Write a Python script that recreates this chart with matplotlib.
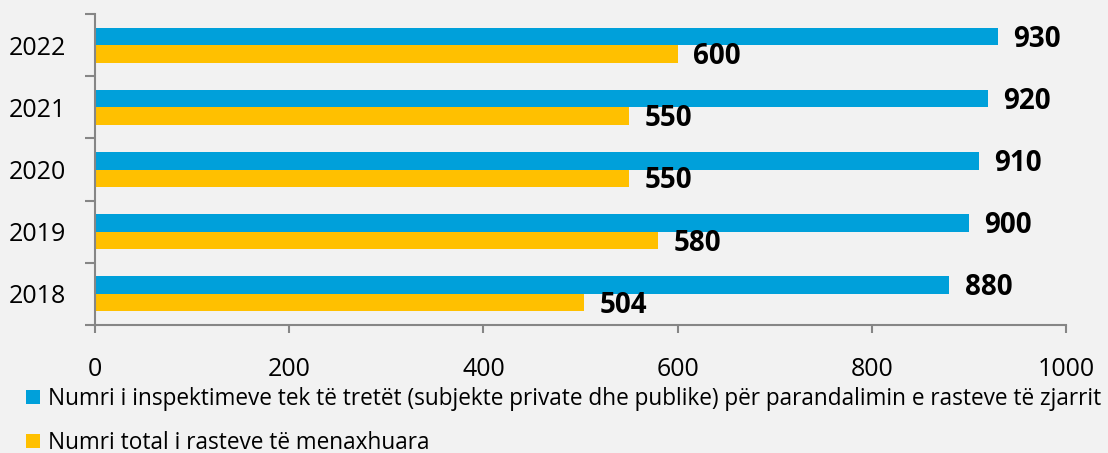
import matplotlib
matplotlib.use("Agg")
import matplotlib.pyplot as plt
import numpy as np

years = ["2018", "2019", "2020", "2021", "2022"]
inspections = [880, 900, 910, 920, 930]
cases = [504, 580, 550, 550, 600]
series_labels = [
    "Numri i inspektimeve tek të tretët (subjekte private dhe publike) për parandalimin e rasteve të zjarrit",
    "Numri total i rasteve të menaxhuara",
]
x_ticks = [0, 200, 400, 600, 800, 1000]

BLUE = "#00A0DA"
YELLOW = "#FFC000"
BG = "#F2F2F2"
AXC = "#868686"

plt.rcParams["font.family"] = ["Open Sans", "DejaVu Sans"]

fig = plt.figure(figsize=(11.08, 4.53), dpi=100, facecolor=BG)
ax = fig.add_axes([95 / 1108, 1 - 325 / 453, (1066 - 95) / 1108, (325 - 14) / 453])
ax.set_facecolor(BG)

y = np.arange(len(years))
h = 0.28
b1 = ax.barh(y + h / 2, inspections, height=h, color=BLUE, label=series_labels[0])
b2 = ax.barh(y - h / 2, cases, height=h, color=YELLOW, label=series_labels[1])

for bars, vals in ((b1, inspections), (b2, cases)):
    for rect, v in zip(bars, vals):
        ax.annotate(str(v), xy=(rect.get_width(), rect.get_y() + rect.get_height() / 2),
                    xytext=(11, -2), textcoords="offset points",
                    ha="left", va="center", fontsize=20, fontweight="bold", color="black")

ax.set_xlim(0, 1000)
ax.set_ylim(-0.5, len(years) - 0.5)
ax.set_xticks(x_ticks)
ax.set_xticklabels([str(t) for t in x_ticks])
ax.set_yticks(y)
ax.set_yticklabels(years)
ax.set_yticks(np.arange(-0.5, len(years), 1.0), minor=True)

for s in ("top", "right"):
    ax.spines[s].set_visible(False)
for s in ("left", "bottom"):
    ax.spines[s].set_color(AXC)
    ax.spines[s].set_linewidth(1.5)

ax.tick_params(axis="x", which="major", direction="out", length=6, width=1.5, color=AXC,
               labelsize=18, pad=17)
ax.tick_params(axis="y", which="major", length=0, labelsize=18, pad=21)
ax.tick_params(axis="y", which="minor", direction="out", length=7.5, width=1.5, color=AXC)

leg = fig.legend(handles=[b1, b2], labels=series_labels, loc="upper left",
                 bbox_to_anchor=(26 / 1108, 1 - 387 / 453), ncol=1, frameon=False,
                 fontsize=16.3, handlelength=0.63, handleheight=0.63, handletextpad=0.33,
                 labelspacing=0.88, borderpad=0, borderaxespad=0)

fig.savefig("out.png", dpi=100, facecolor=BG)
